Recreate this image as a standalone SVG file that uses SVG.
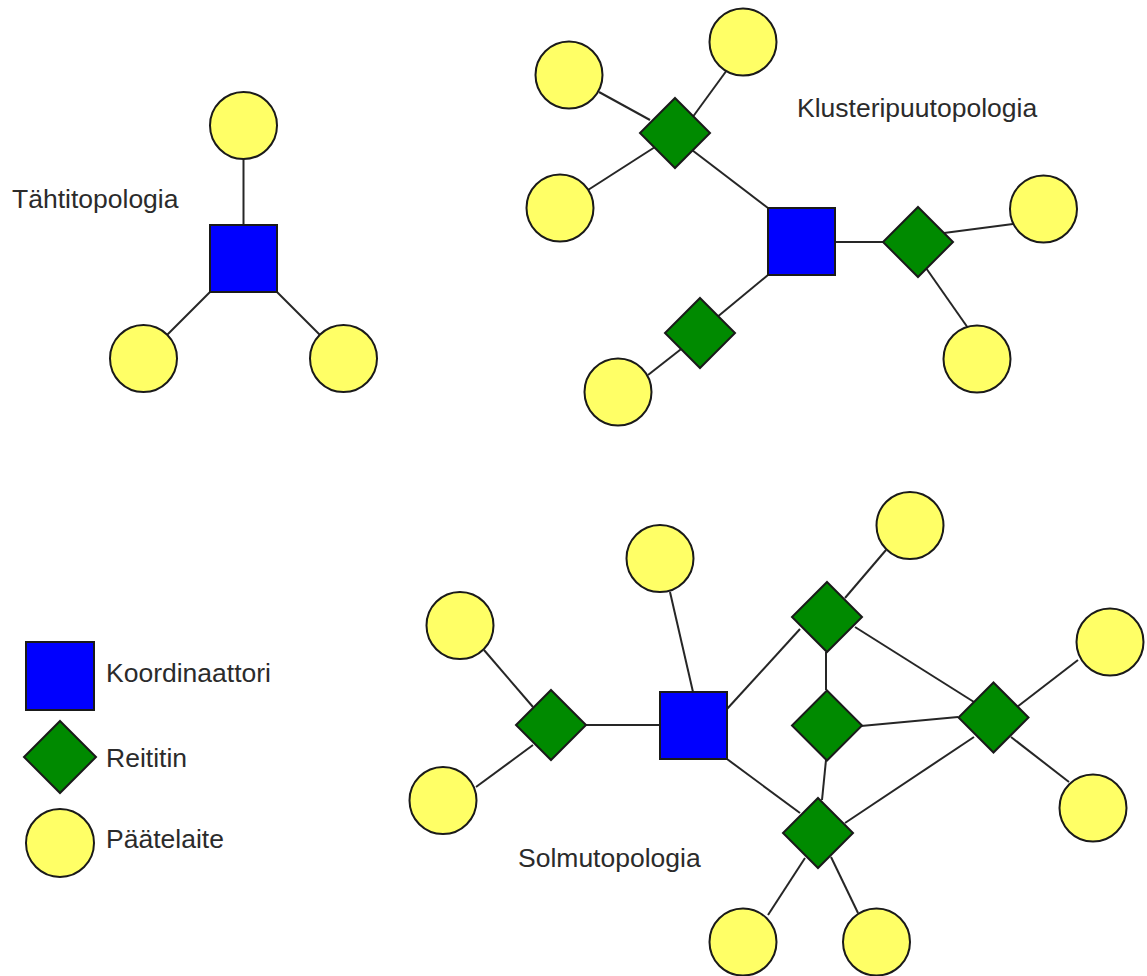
<svg xmlns="http://www.w3.org/2000/svg" width="1147" height="976" viewBox="0 0 1147 976">
  <style>
    .edge { stroke: #262626; stroke-width: 2; fill: none; }
    .coord { fill: #0000ff; stroke: #1a1a1a; stroke-width: 2; }
    .router { fill: #008a00; stroke: #1a1a1a; stroke-width: 2; }
    .device { fill: #ffff66; stroke: #1a1a1a; stroke-width: 2; }
    .label { font-family: "Liberation Sans", Arial, sans-serif; font-size: 26.5px; fill: #2b2b2b; }
  </style>
  <defs>
    <circle id="dev" r="33.5" class="device"/>
    <polygon id="rtr" points="0,-35 35,0 0,35 -35,0" class="router"/>
  </defs>

  <!-- connectors -->
  <g id="connectors">
    <!-- star -->
    <line class="edge" x1="243.5" y1="159" x2="243.5" y2="225"/>
    <line class="edge" x1="210" y1="292" x2="167" y2="335"/>
    <line class="edge" x1="277" y1="292" x2="320" y2="335"/>
    <!-- cluster tree -->
    <line class="edge" x1="599" y1="92" x2="650" y2="120"/>
    <line class="edge" x1="727" y1="70" x2="692" y2="118"/>
    <line class="edge" x1="588" y1="190" x2="655" y2="147"/>
    <line class="edge" x1="692" y1="150" x2="768" y2="208"/>
    <line class="edge" x1="768" y1="275" x2="716" y2="318"/>
    <line class="edge" x1="685" y1="346" x2="648" y2="375"/>
    <line class="edge" x1="835" y1="242" x2="883" y2="242"/>
    <line class="edge" x1="944" y1="233" x2="1013" y2="224"/>
    <line class="edge" x1="926" y1="268" x2="968" y2="328"/>
    <!-- mesh -->
    <line class="edge" x1="484" y1="650" x2="533" y2="707"/>
    <line class="edge" x1="476" y1="787" x2="533" y2="745"/>
    <line class="edge" x1="586" y1="725" x2="660" y2="725"/>
    <line class="edge" x1="670" y1="592" x2="693" y2="692"/>
    <line class="edge" x1="727" y1="709" x2="800" y2="629"/>
    <line class="edge" x1="845" y1="598" x2="886" y2="550"/>
    <line class="edge" x1="826" y1="652" x2="826" y2="690"/>
    <line class="edge" x1="855" y1="627" x2="974" y2="702"/>
    <line class="edge" x1="861" y1="726" x2="958" y2="717"/>
    <line class="edge" x1="826" y1="760" x2="822" y2="800"/>
    <line class="edge" x1="727" y1="759" x2="800" y2="813"/>
    <line class="edge" x1="845" y1="823" x2="974" y2="737"/>
    <line class="edge" x1="1017" y1="707" x2="1078" y2="660"/>
    <line class="edge" x1="1011" y1="737" x2="1069" y2="782"/>
    <line class="edge" x1="805" y1="858" x2="768" y2="915"/>
    <line class="edge" x1="831" y1="857" x2="858" y2="913"/>
  </g>

  <!-- star topology -->
  <g id="star-label"><text class="label" x="12" y="208">Tähtitopologia</text></g>
  <g id="star-coord"><rect class="coord" x="210" y="225" width="67" height="67"/></g>
  <g id="star-dev-top"><use href="#dev" x="243.5" y="125.5"/></g>
  <g id="star-dev-left"><use href="#dev" x="143.5" y="358.5"/></g>
  <g id="star-dev-right"><use href="#dev" x="343.5" y="358.5"/></g>

  <!-- cluster tree topology -->
  <g id="tree-label"><text class="label" x="797" y="117">Klusteripuutopologia</text></g>
  <g id="tree-coord"><rect class="coord" x="768" y="208" width="67" height="67"/></g>
  <g id="tree-rtr-a"><use href="#rtr" x="675" y="133"/></g>
  <g id="tree-rtr-b"><use href="#rtr" x="918" y="242"/></g>
  <g id="tree-rtr-c"><use href="#rtr" x="700" y="333"/></g>
  <g id="tree-dev-1"><use href="#dev" x="569" y="75"/></g>
  <g id="tree-dev-2"><use href="#dev" x="743" y="42"/></g>
  <g id="tree-dev-3"><use href="#dev" x="560" y="208"/></g>
  <g id="tree-dev-4"><use href="#dev" x="1043.5" y="209"/></g>
  <g id="tree-dev-5"><use href="#dev" x="977" y="359"/></g>
  <g id="tree-dev-6"><use href="#dev" x="618" y="392"/></g>

  <!-- mesh topology -->
  <g id="mesh-label"><text class="label" x="518" y="867">Solmutopologia</text></g>
  <g id="mesh-coord"><rect class="coord" x="660" y="692" width="67" height="67"/></g>
  <g id="mesh-rtr-left"><use href="#rtr" x="551" y="725"/></g>
  <g id="mesh-rtr-top"><use href="#rtr" x="827" y="617"/></g>
  <g id="mesh-rtr-mid"><use href="#rtr" x="827" y="725.5"/></g>
  <g id="mesh-rtr-right"><use href="#rtr" x="993.5" y="717.5"/></g>
  <g id="mesh-rtr-bottom"><use href="#rtr" x="818" y="833"/></g>
  <g id="mesh-dev-1"><use href="#dev" x="660" y="558.5"/></g>
  <g id="mesh-dev-2"><use href="#dev" x="460" y="625.5"/></g>
  <g id="mesh-dev-3"><use href="#dev" x="443" y="800.5"/></g>
  <g id="mesh-dev-4"><use href="#dev" x="910" y="525.5"/></g>
  <g id="mesh-dev-5"><use href="#dev" x="1110" y="642"/></g>
  <g id="mesh-dev-6"><use href="#dev" x="1093" y="808"/></g>
  <g id="mesh-dev-7"><use href="#dev" x="743" y="942"/></g>
  <g id="mesh-dev-8"><use href="#dev" x="876.5" y="942"/></g>

  <!-- legend -->
  <g id="legend-coord">
    <rect class="coord" x="26" y="642" width="68" height="68"/>
    <text class="label" x="106" y="682">Koordinaattori</text>
  </g>
  <g id="legend-router">
    <polygon class="router" points="60,721 96,757 60,793 24,757"/>
    <text class="label" x="106" y="767">Reititin</text>
  </g>
  <g id="legend-device">
    <circle class="device" cx="60" cy="843" r="34"/>
    <text class="label" x="106" y="848">Päätelaite</text>
  </g>
</svg>
